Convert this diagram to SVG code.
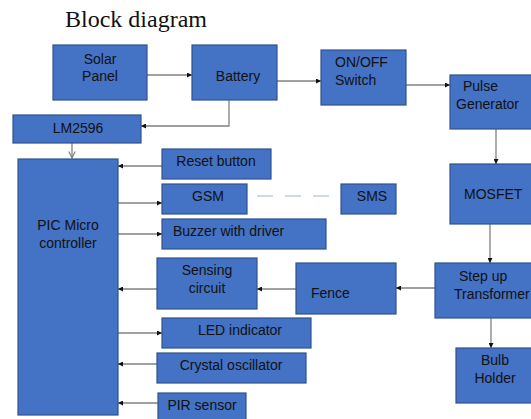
<svg xmlns="http://www.w3.org/2000/svg" width="531" height="419" viewBox="0 0 531 419">
<defs>
<style>
.box{fill:#4472C4;stroke:#2F528F;stroke-width:1.2}
.t{font-family:"Liberation Sans",Arial,sans-serif;font-size:14px;fill:#111}
.c{stroke:#808080;stroke-width:1.3;fill:none}
.d{stroke:#9DB3D6;stroke-width:1.2;stroke-dasharray:16,12;fill:none}
</style>
<marker id="a" viewBox="0 0 6 6" refX="6" refY="3" markerWidth="5" markerHeight="5" orient="auto" markerUnits="userSpaceOnUse">
<path d="M0,0 L6,3 L0,6 z" fill="#111"/>
</marker>
<marker id="o" viewBox="0 0 10 10" refX="9" refY="5" markerWidth="8" markerHeight="8" orient="auto" markerUnits="userSpaceOnUse">
<path d="M1,1 L9,5 L1,9" fill="none" stroke="#808080" stroke-width="1.5"/>
</marker>
</defs>
<rect width="531" height="419" fill="#fff"/>
<text x="65" y="27" font-family="Liberation Serif,'Times New Roman',serif" font-size="24" fill="#111">Block diagram</text>
<g id="connectors">
<line class="c" x1="147" y1="75" x2="192" y2="75" marker-end="url(#a)"/>
<line class="c" x1="277" y1="81" x2="321" y2="81" marker-end="url(#a)"/>
<line class="c" x1="406" y1="85" x2="450" y2="85" marker-end="url(#a)"/>
<polyline class="c" points="229,100 229,126 141,126" marker-end="url(#a)"/>
<line class="c" x1="72" y1="143" x2="72" y2="158" marker-end="url(#o)"/>
<line class="c" x1="496" y1="129" x2="496" y2="164" marker-end="url(#a)"/>
<line class="c" x1="490" y1="224" x2="490" y2="263" marker-end="url(#a)"/>
<line class="c" x1="491" y1="318" x2="491" y2="348" marker-end="url(#a)"/>
<line class="c" x1="435" y1="288" x2="396" y2="288" marker-end="url(#a)"/>
<line class="c" x1="296" y1="289" x2="257" y2="289" marker-end="url(#a)"/>
<line class="c" x1="157" y1="289" x2="118" y2="289" marker-end="url(#a)"/>
<line class="c" x1="162" y1="166" x2="118" y2="166" marker-end="url(#a)"/>
<line class="c" x1="118" y1="203" x2="162" y2="203" marker-end="url(#a)"/>
<line class="c" x1="118" y1="234" x2="162" y2="234" marker-end="url(#a)"/>
<line class="c" x1="118" y1="333" x2="162" y2="333" marker-end="url(#a)"/>
<line class="c" x1="157" y1="364" x2="118" y2="364" marker-end="url(#a)"/>
<line class="c" x1="158" y1="403" x2="118" y2="403" marker-end="url(#a)"/>
<line class="d" x1="257" y1="196" x2="334" y2="196"/>
</g>
<g id="solar"><rect class="box" x="53" y="45" width="94" height="55"/><text class="t" x="100" y="64" text-anchor="middle">Solar</text><text class="t" x="100" y="81" text-anchor="middle">Panel</text></g>
<g id="battery"><rect class="box" x="192" y="45" width="85" height="55"/><text class="t" x="238" y="81" text-anchor="middle">Battery</text></g>
<g id="switch"><rect class="box" x="321" y="50" width="85" height="55"/><text class="t" x="335" y="67">ON/OFF</text><text class="t" x="335" y="85">Switch</text></g>
<g id="pulse"><rect class="box" x="450" y="75" width="84" height="54"/><text class="t" x="463" y="91">Pulse</text><text class="t" x="456" y="109">Generator</text></g>
<g id="lm2596"><rect class="box" x="13" y="115" width="128" height="28"/><text class="t" x="78" y="133" text-anchor="middle">LM2596</text></g>
<g id="pic"><rect class="box" x="18" y="159" width="100" height="256"/><text class="t" x="68" y="230" text-anchor="middle">PIC Micro</text><text class="t" x="68" y="248" text-anchor="middle">controller</text></g>
<g id="reset"><rect class="box" x="162" y="149" width="109" height="30"/><text class="t" x="216" y="166" text-anchor="middle">Reset button</text></g>
<g id="gsm"><rect class="box" x="162" y="184" width="85" height="30"/><text class="t" x="208" y="201" text-anchor="middle">GSM</text></g>
<g id="sms"><rect class="box" x="341" y="184" width="55" height="30"/><text class="t" x="372" y="201" text-anchor="middle">SMS</text></g>
<g id="buzzer"><rect class="box" x="162" y="219" width="164" height="30"/><text class="t" x="173" y="236">Buzzer with driver</text></g>
<g id="sensing"><rect class="box" x="157" y="258" width="100" height="51"/><text class="t" x="207" y="275" text-anchor="middle">Sensing</text><text class="t" x="207" y="293" text-anchor="middle">circuit</text></g>
<g id="fence"><rect class="box" x="296" y="263" width="100" height="51"/><text class="t" x="311" y="298">Fence</text></g>
<g id="mosfet"><rect class="box" x="450" y="164" width="84" height="60"/><text class="t" x="464" y="199">MOSFET</text></g>
<g id="stepup"><rect class="box" x="435" y="263" width="99" height="55"/><text class="t" x="459" y="281">Step up</text><text class="t" x="454" y="299">Transformer</text></g>
<g id="bulb"><rect class="box" x="456" y="348" width="78" height="55"/><text class="t" x="495" y="365" text-anchor="middle">Bulb</text><text class="t" x="495" y="383" text-anchor="middle">Holder</text></g>
<g id="led"><rect class="box" x="162" y="318" width="149" height="30"/><text class="t" x="240" y="335" text-anchor="middle">LED indicator</text></g>
<g id="crystal"><rect class="box" x="157" y="353" width="149" height="30"/><text class="t" x="231" y="370" text-anchor="middle">Crystal oscillator</text></g>
<g id="pir"><rect class="box" x="158" y="393" width="88" height="30"/><text class="t" x="202" y="410" text-anchor="middle">PIR sensor</text></g>
</svg>
